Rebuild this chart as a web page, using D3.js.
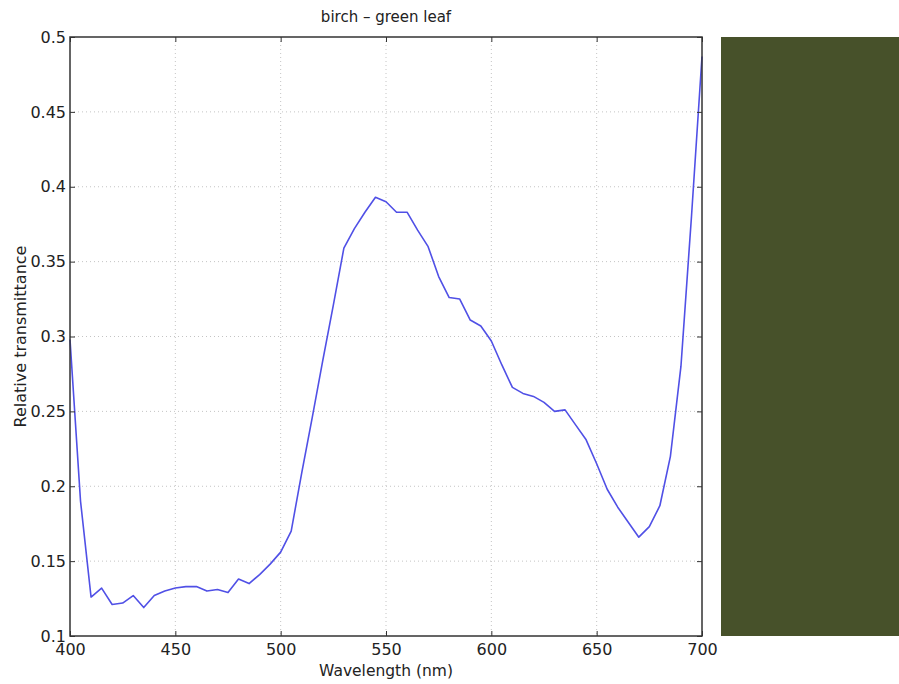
<!DOCTYPE html>
<html><head><meta charset="utf-8">
<script src="https://cdn.jsdelivr.net/npm/d3@7"></script>
<style>body{margin:0;background:#fff}svg{display:block}text{font-family:"DejaVu Sans",sans-serif;fill:#222}</style>
</head><body><svg id="c" width="899" height="684"></svg>
<script>
const title = "birch – green leaf";
const xLabel = "Wavelength (nm)";
const yLabel = "Relative transmittance";
const wavelengths = d3.range(400, 701, 5);
const transmittance = [0.298,0.190,0.126,0.132,0.121,0.122,0.127,0.119,0.127,0.130,0.132,0.133,0.133,0.130,0.131,0.129,0.138,0.135,0.141,0.148,0.156,0.170,0.209,0.246,0.284,0.321,0.359,0.372,0.383,0.393,0.390,0.383,0.383,0.371,0.360,0.340,0.326,0.325,0.311,0.307,0.297,0.281,0.266,0.262,0.260,0.256,0.250,0.251,0.241,0.231,0.215,0.198,0.186,0.176,0.166,0.173,0.187,0.220,0.280,0.380,0.487];
const xTicks = [400,450,500,550,600,650,700];
const yTicks = [0.1,0.15,0.2,0.25,0.3,0.35,0.4,0.45,0.5];
const swatchColor = "#47512a";

const svg = d3.select("#c");
const L=70,R=702,T=37,B=636;
const x = d3.scaleLinear().domain([400,700]).range([L,R]);
const y = d3.scaleLinear().domain([0.1,0.5]).range([B,T]);
const FF = "DejaVu Sans, sans-serif";

// grid
const g = svg.append("g");
g.selectAll(".gx").data(xTicks.slice(1,-1)).join("line")
 .attr("x1",d=>x(d)).attr("x2",d=>x(d)).attr("y1",T).attr("y2",B)
 .attr("stroke","#c4c4c4").attr("stroke-width",1).attr("stroke-dasharray","1,3");
g.selectAll(".gy").data(yTicks.slice(1,-1)).join("line")
 .attr("y1",d=>y(d)).attr("y2",d=>y(d)).attr("x1",L).attr("x2",R)
 .attr("stroke","#c4c4c4").attr("stroke-width",1).attr("stroke-dasharray","1,3");

// line
svg.append("path").datum(wavelengths.map((w,i)=>[w,transmittance[i]]))
 .attr("d",d3.line().x(d=>x(d[0])).y(d=>y(d[1])))
 .attr("fill","none").attr("stroke","#5050e6").attr("stroke-width",1.6).attr("stroke-linejoin","round");

// axes (ticks inward, box)
const tl=5;
const fmtY = d=>String(+d.toFixed(2));
const styleAx = a=>{a.select(".domain").remove();a.selectAll("text").attr("font-size",16).style("font-family",FF).attr("fill","#222");a.selectAll("line").attr("stroke","#333");};
svg.append("g").attr("transform",`translate(0,${B})`)
 .call(d3.axisBottom(x).tickValues(xTicks).tickSizeInner(-tl).tickSizeOuter(0).tickPadding(8).tickFormat(d3.format("d")))
 .call(styleAx);
svg.append("g").attr("transform",`translate(0,${T})`)
 .call(d3.axisTop(x).tickValues(xTicks).tickSizeInner(-tl).tickSizeOuter(0).tickFormat(""))
 .call(styleAx);
svg.append("g").attr("transform",`translate(${L},0)`)
 .call(d3.axisLeft(y).tickValues(yTicks).tickSizeInner(-tl).tickSizeOuter(0).tickPadding(4).tickFormat(fmtY))
 .call(styleAx);
svg.append("g").attr("transform",`translate(${R},0)`)
 .call(d3.axisRight(y).tickValues(yTicks).tickSizeInner(-tl).tickSizeOuter(0).tickFormat(""))
 .call(styleAx);
svg.append("rect").attr("x",L).attr("y",T).attr("width",R-L).attr("height",B-T)
 .attr("fill","none").attr("stroke","#333").attr("stroke-width",1.5);

// texts
svg.append("text").attr("x",(L+R)/2).attr("y",22).attr("text-anchor","middle").attr("font-size",15).text(title);
svg.append("text").attr("x",(L+R)/2).attr("y",676).attr("text-anchor","middle").attr("font-size",15.5).text(xLabel);
svg.append("text").attr("transform",`translate(26,${(T+B)/2}) rotate(-90)`).attr("text-anchor","middle").attr("font-size",16).text(yLabel);

// swatch
svg.append("rect").attr("x",721).attr("y",T).attr("width",899-721).attr("height",B-T).attr("fill",swatchColor);
</script></body></html>
